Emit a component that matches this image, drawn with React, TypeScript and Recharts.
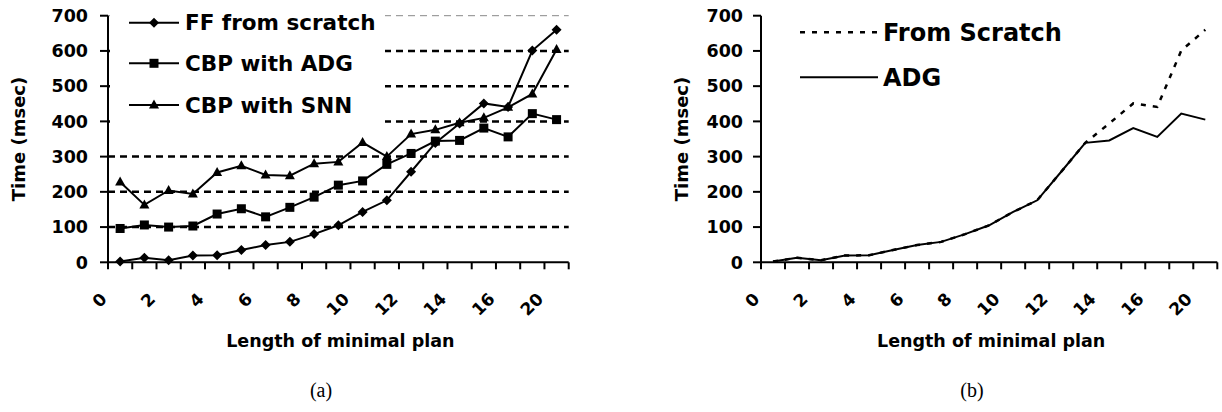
import { LineChart, Line, XAxis, YAxis, ReferenceLine, Legend, Label } from 'recharts';

// minimal plan lengths (categories on the x axis)
const PLAN_LENGTHS = ['0', '1', '2', '3', '4', '5', '6', '7', '8', '9', '10', '11', '12', '13', '14', '15', '16', '17', '20'];

// (a) time in msec
const FF_SCRATCH = [2, 13, 6, 19, 20, 35, 49, 58, 80, 105, 143, 176, 257, 339, 394, 451, 441, 601, 660];
const CBP_ADG = [96, 106, 100, 103, 137, 152, 129, 156, 185, 219, 231, 278, 309, 344, 346, 381, 356, 422, 405];
const CBP_SNN = [228, 163, 204, 194, 255, 274, 248, 246, 280, 285, 340, 300, 364, 376, 396, 410, 440, 478, 604];

// (b) time in msec
const FROM_SCRATCH = [2, 13, 6, 19, 20, 35, 49, 58, 80, 105, 143, 176, 257, 339, 394, 451, 441, 601, 660];
const ADG = [2, 13, 6, 19, 20, 35, 49, 58, 80, 105, 143, 176, 257, 339, 346, 381, 356, 422, 405];

const Y_TICKS = [0, 100, 200, 300, 400, 500, 600, 700];
const GRID_VALUES = [100, 200, 300, 400, 500, 600];

const dataA = PLAN_LENGTHS.map((len, i) => ({
  len,
  ff: FF_SCRATCH[i],
  adg: CBP_ADG[i],
  snn: CBP_SNN[i],
}));

const dataB = PLAN_LENGTHS.map((len, i) => ({
  len,
  scratch: FROM_SCRATCH[i],
  adg: ADG[i],
}));

const FONT = '"DejaVu Sans", Arial, sans-serif';
const H = 412;
const TOP = 15.7;
const X_AXIS_H = 86;
const BOTTOM = H - 262.3 - X_AXIS_H;

const A_W = 600;
const A_YAXIS_W = 108;
const A_RIGHT = 31.3;
const A_BAND = (A_W - A_YAXIS_W - A_RIGHT) / PLAN_LENGTHS.length;

const B_W = 602;
const B_YAXIS_W = 141;
const B_RIGHT = 4.7;
const B_BAND = (B_W - B_YAXIS_W - B_RIGHT) / PLAN_LENGTHS.length;

type MarkerKind = 'diamond' | 'square' | 'triangle';

function marker(kind: MarkerKind, cx: number, cy: number, key?: string | number) {
  if (kind === 'diamond') {
    return <path key={key} d={`M${cx},${cy - 5} L${cx + 5},${cy} L${cx},${cy + 5} L${cx - 5},${cy} Z`} fill="#000" />;
  }
  if (kind === 'square') {
    return <rect key={key} x={cx - 4.5} y={cy - 4.5} width={9} height={9} fill="#000" />;
  }
  return <path key={key} d={`M${cx},${cy - 5.5} L${cx + 5},${cy + 3.5} L${cx - 5},${cy + 3.5} Z`} fill="#000" />;
}

const dotOf = (kind: MarkerKind) => (props: any) => {
  if (props.cx == null || props.cy == null) return <g key={props.index} />;
  return marker(kind, props.cx, props.cy, props.index);
};

const MARKERS: Record<string, MarkerKind> = { ff: 'diamond', adg: 'square', snn: 'triangle' };
const ORDER_A = ['ff', 'adg', 'snn'];
const ORDER_B = ['scratch', 'adg'];

function makeXTick(band: number) {
  return (props: any) => {
    const { x, y, payload, index } = props;
    const last = index === PLAN_LENGTHS.length - 1;
    const tx = x - 16.5;
    const ty = y + 33.5;
    return (
      <g>
        <line x1={x - band / 2} x2={x - band / 2} y1={y} y2={y + 7} stroke="#000" strokeWidth={2} />
        {last && <line x1={x + band / 2} x2={x + band / 2} y1={y} y2={y + 7} stroke="#000" strokeWidth={2} />}
        {index % 2 === 0 && (
          <text
            x={tx}
            y={ty}
            transform={`rotate(-45 ${tx} ${ty})`}
            textAnchor="end"
            dominantBaseline="central"
            fontFamily={FONT}
            fontWeight="bold"
            fontSize={17}
            fill="#000"
          >
            {payload.value}
          </text>
        )}
      </g>
    );
  };
}

const yTitle = (dx: number) => (props: any) => {
  const vb = props.viewBox;
  const cx = vb.x + dx;
  const cy = vb.y + vb.height / 2;
  return (
    <text
      x={cx}
      y={cy}
      transform={`rotate(-90 ${cx} ${cy})`}
      textAnchor="middle"
      dominantBaseline="central"
      fontFamily={FONT}
      fontWeight="bold"
      fontSize={18}
      fill="#000"
    >
      Time (msec)
    </text>
  );
};

const xTitle = (props: any) => {
  const vb = props.viewBox;
  return (
    <text
      x={vb.x + vb.width / 2 + 2}
      y={vb.y + 85}
      textAnchor="middle"
      fontFamily={FONT}
      fontWeight="bold"
      fontSize={17.5}
      fill="#000"
    >
      Length of minimal plan
    </text>
  );
};

const sortBy = (payload: any[], order: string[]) =>
  [...payload].sort((a, b) => order.indexOf(a.dataKey) - order.indexOf(b.dataKey));

const LEGEND_A_ROWS = [22.7, 63.3, 105];

const LegendA = (props: any) => {
  const payload = sortBy(props.payload || [], ORDER_A);
  return (
    <svg width={275} height={132} style={{ display: 'block', background: '#fff' }}>
      {payload.map((entry: any, i: number) => {
        const y = LEGEND_A_ROWS[i];
        return (
          <g key={entry.value}>
            <line x1={19} x2={69} y1={y} y2={y} stroke="#000" strokeWidth={2} />
            {marker(MARKERS[entry.dataKey], 44, y)}
            <text x={75} y={y} dominantBaseline="central" fontFamily={FONT} fontWeight="bold" fontSize={21.5} fill="#000">
              {entry.value}
            </text>
          </g>
        );
      })}
    </svg>
  );
};

const LEGEND_B_ROWS = [32.3, 77.3];

const LegendB = (props: any) => {
  const payload = sortBy(props.payload || [], ORDER_B);
  return (
    <svg width={320} height={100} style={{ display: 'block' }}>
      {payload.map((entry: any, i: number) => {
        const y = LEGEND_B_ROWS[i];
        const dashed = entry.dataKey === 'scratch';
        return (
          <g key={entry.value}>
            <line
              x1={15}
              x2={93}
              y1={y}
              y2={y}
              stroke="#000"
              strokeWidth={dashed ? 2.5 : 2}
              strokeDasharray={dashed ? '5 7' : undefined}
            />
            <text x={98} y={y + 1} dominantBaseline="central" fontFamily={FONT} fontWeight="bold" fontSize={24} fill="#000">
              {entry.value}
            </text>
          </g>
        );
      })}
    </svg>
  );
};

const tickStyle = { fontFamily: FONT, fontWeight: 'bold', fontSize: 17.5, fill: '#000' };

const caption = (text: string, left: number) => (
  <div
    style={{
      position: 'absolute',
      left: left - 30,
      width: 60,
      top: 378,
      textAlign: 'center',
      fontFamily: '"Liberation Serif", "Times New Roman", serif',
      fontSize: 20,
      lineHeight: '24px',
      color: '#000',
    }}
  >
    {text}
  </div>
);

export default function App() {
  return (
    <div style={{ position: 'absolute', left: 0, top: 0, width: 1222, height: H, background: '#fff', overflow: 'hidden' }}>
      <div style={{ position: 'absolute', left: 0, top: 0 }}>
        <LineChart width={A_W} height={H} data={dataA} margin={{ top: TOP, right: A_RIGHT, bottom: BOTTOM, left: 0 }}>
          <XAxis
            dataKey="len"
            type="category"
            interval={0}
            height={X_AXIS_H}
            padding={{ left: A_BAND / 2, right: A_BAND / 2 }}
            tickLine={false}
            tickSize={0}
            tickMargin={0}
            axisLine={{ stroke: '#000', strokeWidth: 2 }}
            tick={makeXTick(A_BAND)}
          >
            <Label content={xTitle} />
          </XAxis>
          <YAxis
            width={A_YAXIS_W}
            domain={[0, 700]}
            ticks={Y_TICKS}
            interval={0}
            tickSize={8}
            tickMargin={12}
            axisLine={{ stroke: '#000', strokeWidth: 2 }}
            tickLine={{ stroke: '#000', strokeWidth: 2 }}
            tick={tickStyle}
          >
            <Label content={yTitle(18)} />
          </YAxis>
          {GRID_VALUES.map((v) => (
            <ReferenceLine key={v} y={v} stroke="#000" strokeWidth={2.5} strokeDasharray="7 5" />
          ))}
          <ReferenceLine y={700} stroke="#888" strokeWidth={1} strokeDasharray="7 5" />
          <Line dataKey="ff" name="FF from scratch" stroke="#000" strokeWidth={2} dot={dotOf('diamond')} activeDot={false} isAnimationActive={false} />
          <Line dataKey="adg" name="CBP with ADG" stroke="#000" strokeWidth={2} dot={dotOf('square')} activeDot={false} isAnimationActive={false} />
          <Line dataKey="snn" name="CBP with SNN" stroke="#000" strokeWidth={2} dot={dotOf('triangle')} activeDot={false} isAnimationActive={false} />
          <Legend
            layout="horizontal"
            verticalAlign="middle"
            align="center"
            content={LegendA}
            wrapperStyle={{ left: 110, top: 0, width: 275, height: 132 }}
          />
        </LineChart>
      </div>
      <div style={{ position: 'absolute', left: 620, top: 0 }}>
        <LineChart width={B_W} height={H} data={dataB} margin={{ top: TOP, right: B_RIGHT, bottom: BOTTOM, left: 0 }}>
          <XAxis
            dataKey="len"
            type="category"
            interval={0}
            height={X_AXIS_H}
            padding={{ left: B_BAND / 2, right: B_BAND / 2 }}
            tickLine={false}
            tickSize={0}
            tickMargin={0}
            axisLine={{ stroke: '#000', strokeWidth: 2 }}
            tick={makeXTick(B_BAND)}
          >
            <Label content={xTitle} />
          </XAxis>
          <YAxis
            width={B_YAXIS_W}
            domain={[0, 700]}
            ticks={Y_TICKS}
            interval={0}
            tickSize={8}
            tickMargin={10}
            axisLine={{ stroke: '#000', strokeWidth: 2 }}
            tickLine={{ stroke: '#000', strokeWidth: 2 }}
            tick={tickStyle}
          >
            <Label content={yTitle(61.7)} />
          </YAxis>
          <Line dataKey="scratch" name="From Scratch" stroke="#000" strokeWidth={2.5} strokeDasharray="5 7" dot={false} activeDot={false} isAnimationActive={false} />
          <Line dataKey="adg" name="ADG" stroke="#000" strokeWidth={2} dot={false} activeDot={false} isAnimationActive={false} />
          <Legend
            layout="horizontal"
            verticalAlign="middle"
            align="center"
            content={LegendB}
            wrapperStyle={{ left: 165, top: 0, width: 320, height: 100 }}
          />
        </LineChart>
      </div>
      {caption('(a)', 321)}
      {caption('(b)', 972)}
    </div>
  );
}
